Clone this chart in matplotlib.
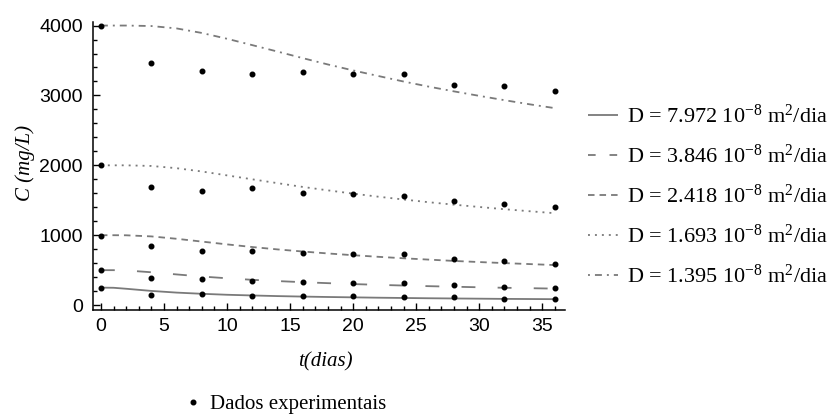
import matplotlib
matplotlib.use("Agg")
import matplotlib.pyplot as plt
from matplotlib.lines import Line2D
from matplotlib.ticker import MultipleLocator

# ---------------- data ----------------
t_exp = [0, 4, 8, 12, 16, 20, 24, 28, 32, 36]
exp_4000 = [4000, 3460, 3350, 3310, 3333, 3310, 3310, 3155, 3132, 3070]
exp_2000 = [2000, 1690, 1630, 1676, 1605, 1586, 1562, 1495, 1452, 1405]
exp_1000 = [995, 840, 771, 771, 752, 729, 729, 662, 638, 590]
exp_500 = [505, 395, 376, 352, 329, 310, 310, 286, 262, 243]
exp_250 = [243, 150, 160, 133, 133, 133, 114, 114, 86, 86]

t_mod = [0, 1, 2, 4, 6, 8, 10, 12, 14, 16, 18, 20, 22, 24, 26, 28, 30, 32, 34, 36]
mod_D7972 = [250, 248, 234, 203, 179, 162, 148, 138, 129, 122, 116, 111, 106, 102, 98, 95, 92, 89, 87, 85]
mod_D3846 = [500, 500, 496, 470, 439, 409, 384, 362, 344, 328, 314, 301, 290, 280, 271, 263, 255, 248, 242, 236]
mod_D2418 = [1000, 1000, 999, 983, 949, 909, 869, 831, 797, 767, 739, 714, 691, 670, 651, 632, 616, 601, 587, 573]
mod_D1693 = [2000, 2000, 2000, 1991, 1959, 1912, 1856, 1800, 1745, 1691, 1642, 1595, 1551, 1511, 1472, 1437, 1404, 1372, 1343, 1315]
mod_D1395 = [4000, 4000, 4000, 3993, 3959, 3894, 3811, 3720, 3628, 3534, 3443, 3358, 3278, 3199, 3126, 3058, 2994, 2932, 2873, 2818]

labels = [
    "D = 7.972 10$^{-8}$ m$^{2}$/dia",
    "D = 3.846 10$^{-8}$ m$^{2}$/dia",
    "D = 2.418 10$^{-8}$ m$^{2}$/dia",
    "D = 1.693 10$^{-8}$ m$^{2}$/dia",
    "D = 1.395 10$^{-8}$ m$^{2}$/dia",
]
exp_label = "Dados experimentais"
x_ticks = [0, 5, 10, 15, 20, 25, 30, 35]
y_ticks = [0, 1000, 2000, 3000, 4000]

# ---------------- style ----------------
plt.rcParams["lines.scale_dashes"] = False
plt.rcParams["mathtext.fontset"] = "custom"
plt.rcParams["mathtext.rm"] = "Liberation Serif"
plt.rcParams["mathtext.it"] = "Liberation Serif:italic"
SERIF = ["Liberation Serif", "DejaVu Serif"]
TICKF = ["Liberation Sans Narrow", "Liberation Sans", "DejaVu Sans"]
GRAY = "#7a7a7a"

fig = plt.figure(figsize=(8.34, 4.17), dpi=100)
ax = fig.add_axes([92.7 / 834, (417 - 310) / 417, (565 - 92.7) / 834, (310 - 21.7) / 417])

curves = [mod_D7972, mod_D3846, mod_D2418, mod_D1693, mod_D1395]
plot_dashes = [None, (10, 16), (4.7, 3.6), (1.4, 3.6), (5, 3.6, 1.4, 3.6)]
leg_dashes = [None, (5.5, 10), (4.7, 3.6), (1.4, 3.6), (1.4, 3.6, 5, 3.6)]
lw = 1.3

for y, d in zip(curves, plot_dashes):
    ln, = ax.plot(t_mod, y, color=GRAY, lw=lw, solid_capstyle="butt", dash_capstyle="butt")
    if d is not None:
        ln.set_dashes(d)

for y in [exp_4000, exp_2000, exp_1000, exp_500, exp_250]:
    ax.plot(t_exp, y, linestyle="none", marker="o", markersize=3.3, color="black", zorder=5)

ax.set_xlim(-0.65, 36.8)
ax.set_ylim(-70, 4055)
ax.set_xticks(x_ticks)
ax.set_yticks(y_ticks)
ax.xaxis.set_minor_locator(MultipleLocator(1))
ax.yaxis.set_minor_locator(MultipleLocator(200))
ax.tick_params(which="both", direction="in", width=1.0, colors="black", labelsize=14, pad=6)
ax.tick_params(which="major", length=5)
ax.tick_params(which="minor", length=2.6)
ax.tick_params(axis="y", pad=7)
for lab in ax.get_xticklabels() + ax.get_yticklabels():
    lab.set_family(TICKF)

for s in ["top", "right"]:
    ax.spines[s].set_visible(False)
for s in ["left", "bottom"]:
    ax.spines[s].set_linewidth(1.1)
    ax.spines[s].set_color("black")

ax.set_xlabel("t(dias)", family=SERIF, style="italic", fontsize=15, ha="center", va="center")
ax.xaxis.set_label_coords((325 - 92.7) / (565 - 92.7), (310 - 362) / (310 - 21.7))
ax.set_ylabel("C (mg/L)", family=SERIF, style="italic", fontsize=15, ha="center", va="center", rotation=90)
ax.yaxis.set_label_coords((25 - 92.7) / (565 - 92.7), (310 - 163) / (310 - 21.7))

# legend of model curves
handles = []
for d in leg_dashes:
    h = Line2D([], [], color=GRAY, lw=lw, solid_capstyle="butt", dash_capstyle="butt")
    if d is not None:
        h.set_dashes(d)
    handles.append(h)
fig.legend(handles, labels, loc="center left", bbox_to_anchor=(588 / 834, (417 - 196) / 417),
           frameon=False, borderpad=0, borderaxespad=0, handlelength=1.35, handletextpad=0.42,
           labelspacing=0.75, prop={"family": SERIF, "size": 16})

# legend for experimental data
dot = Line2D([], [], linestyle="none", marker="o", markersize=3.3, color="black")
fig.legend([dot], [exp_label], loc="center left", bbox_to_anchor=(183 / 834, (417 - 404) / 417),
           frameon=False, borderpad=0, borderaxespad=0, handlelength=1.0, handletextpad=0.3,
           prop={"family": SERIF, "size": 15})

fig.savefig("out.png", dpi=100)
